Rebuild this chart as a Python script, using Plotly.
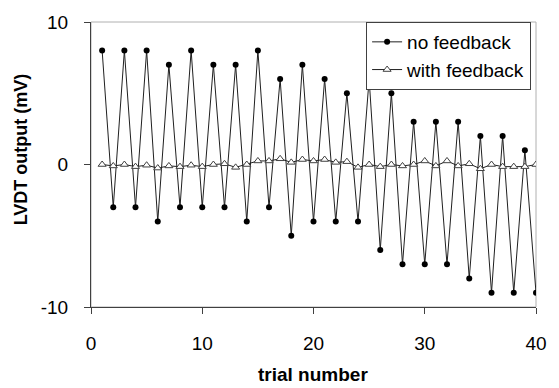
import plotly.graph_objects as go

trials = list(range(1, 41))
no_feedback = [8, -3, 8, -3, 8, -4, 7, -3, 8, -3,
               7, -3, 7, -4, 8, -3, 6, -5, 7, -4,
               6, -4, 5, -4, 6, -6, 5, -7, 3, -7,
               3, -7, 3, -8, 2, -9, 2, -9, 1, -9]
with_feedback = [0, -0.1, 0, -0.15, -0.05, -0.25, -0.1, -0.15, -0.05, -0.15,
                 0, 0.05, -0.2, 0, 0.25, 0.25, 0.4, 0.15, 0.35, 0.25,
                 0.35, 0.15, 0.2, -0.2, 0, -0.15, 0, -0.1, 0, 0.25,
                 -0.1, 0.25, -0.1, 0.05, -0.3, 0, -0.15, -0.15, -0.15, 0]
x_ticks = [0, 10, 20, 30, 40]
y_ticks = [-10, 0, 10]
y_tick_labels = ["-10", "0", "10"]

FONT = "Liberation Sans, Arial, sans-serif"

fig = go.Figure()
fig.add_trace(go.Scatter(
    x=trials, y=no_feedback, name="no feedback", mode="lines+markers",
    line=dict(color="#202020", width=1),
    marker=dict(symbol="circle", size=6, color="black"),
))
fig.add_trace(go.Scatter(
    x=trials, y=with_feedback, name="with feedback", mode="lines+markers",
    line=dict(color="#202020", width=1),
    marker=dict(symbol="triangle-up", size=7, color="white",
                line=dict(color="#404040", width=1)),
))

fig.update_layout(
    width=559, height=388,
    margin=dict(l=91, r=13, t=17, b=81),
    paper_bgcolor="white", plot_bgcolor="white",
    font=dict(family=FONT, size=19, color="black"),
    xaxis=dict(range=[0, 40], tickvals=x_ticks, ticks="outside", ticklen=6,
               tickcolor="#404040", showline=True, linecolor="#404040",
               linewidth=1, showgrid=False, zeroline=False,
               ticklabelstandoff=13, tickfont=dict(size=19)),
    yaxis=dict(range=[-10, 10], tickvals=y_ticks, ticktext=y_tick_labels,
               ticks="outside", ticklen=6,
               tickcolor="#404040", showline=True, linecolor="#404040",
               linewidth=1, showgrid=False, zeroline=False,
               ticklabelstandoff=12, tickfont=dict(size=19)),
    yaxis2=dict(range=[-10, 10], tickvals=y_ticks, ticks="inside", ticklen=6,
                tickcolor="#404040", overlaying="y", side="left",
                showline=False, showgrid=False, zeroline=False,
                showticklabels=False),
    legend=dict(x=0.989, xanchor="right", y=1.0, yanchor="top",
                bgcolor="white", bordercolor="#404040", borderwidth=1,
                font=dict(size=19), itemwidth=30, tracegroupgap=0),
    shapes=[dict(type="rect", xref="paper", yref="paper", x0=0, x1=1,
                 y0=0, y1=1, layer="below",
                 line=dict(color="#b0b0b0", width=1))],
    annotations=[
        dict(text="<b>LVDT output (mV)</b>", xref="paper", yref="paper",
             x=-0.158, y=0.552, textangle=-90, showarrow=False,
             xanchor="center", yanchor="middle", font=dict(size=18)),
        dict(text="<b>trial number</b>", xref="paper", yref="paper",
             x=0.498, y=-0.238, showarrow=False,
             xanchor="center", yanchor="middle", font=dict(size=19)),
    ],
)

fig.write_html("out.html")
